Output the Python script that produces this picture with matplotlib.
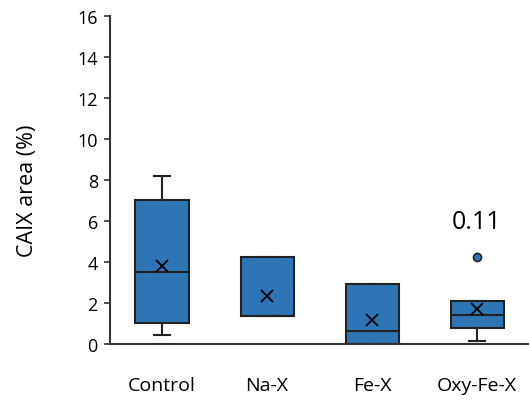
import matplotlib
matplotlib.use("Agg")
import matplotlib.pyplot as plt

groups = ["Control", "Na-X", "Fe-X", "Oxy-Fe-X"]
q1 = [1.0, 1.38, 0.0, 0.8]
median = [3.5, 1.38, 0.63, 1.42]
q3 = [7.0, 4.25, 2.92, 2.1]
whislo = [0.45, 1.38, 0.0, 0.15]
whishi = [8.2, 4.25, 2.92, 2.1]
means = [3.8, 2.34, 1.17, 1.72]
fliers = [[], [], [], [4.25]]
annotation = "0.11"

plt.rcParams['font.family'] = ['Open Sans', 'DejaVu Sans']

stats = []
for i, g in enumerate(groups):
    stats.append({'label': g, 'q1': q1[i], 'med': median[i], 'q3': q3[i],
                  'whislo': whislo[i], 'whishi': whishi[i], 'mean': means[i],
                  'fliers': fliers[i]})

fig = plt.figure(figsize=(5.29, 4.02), dpi=100)
ax = fig.add_axes([0.208, 0.1418, 0.792, 0.8159])

edge = '#222222'
blue = '#2E75B6'
ax.bxp(stats, positions=[1, 2, 3, 4], widths=0.505, showmeans=True, patch_artist=True,
       boxprops=dict(facecolor=blue, edgecolor=edge, linewidth=1.5),
       medianprops=dict(color=edge, linewidth=1.5),
       whiskerprops=dict(color=edge, linewidth=1.5),
       capprops=dict(color=edge, linewidth=1.5),
       capwidths=0.145,
       meanprops=dict(marker='x', markeredgecolor='black', markersize=9, markeredgewidth=1.3),
       flierprops=dict(marker='o', markerfacecolor=blue, markeredgecolor=edge, markersize=5.8,
                       markeredgewidth=1.2))

ax.text(4, 5.98, annotation, ha='center', va='center', fontsize=18)

ax.set_xlim(0.505, 4.495)
ax.set_ylim(0, 16)
ax.set_yticks(range(0, 17, 2))
fig.text(28 / 529, 1 - 191 / 402, "CAIX area (%)", rotation=90, ha='center', va='center',
         fontsize=15.5)

for s in ['top', 'right']:
    ax.spines[s].set_visible(False)
for s in ['left', 'bottom']:
    ax.spines[s].set_color('#333333')
    ax.spines[s].set_linewidth(1.5)
ax.spines['left'].set_bounds(0, 16)
ax.tick_params(axis='y', direction='out', length=4.3, width=1.2, color='#333333', labelsize=13, pad=4.5)
ax.tick_params(axis='x', length=0, labelsize=14, pad=23)

fig.savefig("out.png", dpi=100)
